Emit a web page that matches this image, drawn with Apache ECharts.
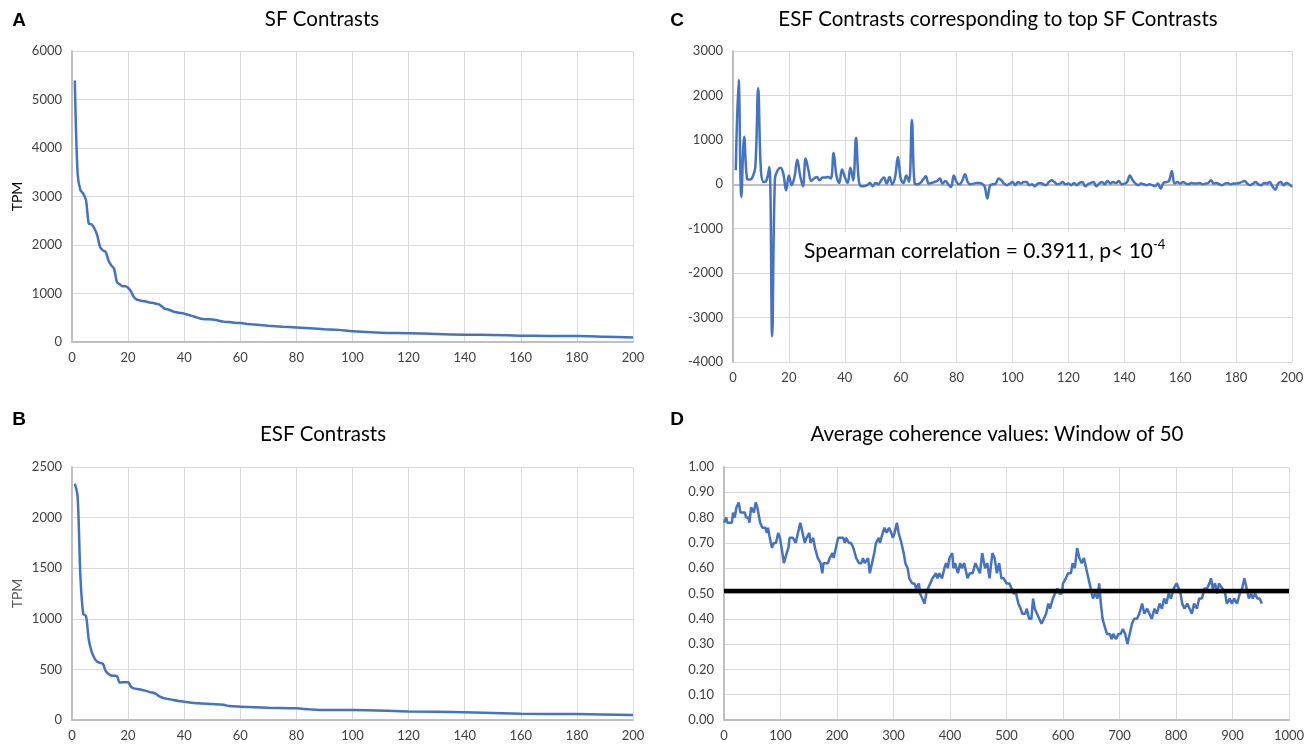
<!DOCTYPE html>
<html>
<head>
<meta charset="utf-8">
<style>
  html, body { margin: 0; padding: 0; background: #fff; }
  #main { width: 1313px; height: 747px; }
</style>
<script src="https://cdn.jsdelivr.net/npm/echarts@6.0.0/dist/echarts.min.js"></script>
</head>
<body>
<div id="main"></div>
<script>
// A: SF contrasts (rank -> TPM)
var sfX = [1, 2, 3, 4, 5, 6, 7, 8, 9, 10, 11, 12, 13, 14, 15, 16, 17, 18, 19, 20,
  21, 22, 23, 24, 25, 26, 27, 28, 29, 30, 31, 32, 33, 34, 35, 36, 38, 40, 42, 44,
  46, 48, 50, 52, 54, 56, 60, 64, 70, 75, 80, 90, 95, 100, 110, 120, 130, 140, 150, 160,
  170, 180, 190, 200];
var sfY = [5390, 3470, 3130, 3060, 2920, 2440, 2425, 2340, 2200, 1960, 1890, 1860, 1680, 1580, 1510, 1240, 1190, 1150, 1150, 1120,
  1050, 930, 880, 860, 845, 840, 825, 810, 805, 790, 775, 735, 690, 675, 655, 630, 605, 585, 550, 515,
  480, 470, 465, 445, 420, 410, 390, 365, 335, 315, 300, 265, 250, 220, 190, 180, 165, 150, 145, 130,
  125, 125, 110, 95];

// B: ESF contrasts
var esfX = [1, 2, 3, 4, 5, 6, 7, 8, 9, 10, 11, 12, 13, 14, 15, 16, 17, 18, 19, 20,
  21, 22, 24, 26, 28, 29, 30, 31, 33, 35, 38, 40, 45, 50, 54, 56, 60, 70, 80, 85,
  90, 100, 120, 140, 160, 180, 200];
var esfY = [2335, 2210, 1415, 1050, 1025, 790, 675, 610, 575, 565, 555, 485, 455, 440, 438, 435, 370, 372, 372, 372,
  330, 313, 303, 290, 273, 270, 257, 237, 214, 204, 188, 181, 165, 158, 151, 138, 132, 122, 115, 105,
  99, 99, 85, 76, 62, 59, 50];

// C: ESF contrasts for top SF contrasts, ranks 1..200
var topEsf = [
  315, 2345, -285, 1070, 130, 105, 165, 390, 2160, 300,
  50, 90, 390, -3420, 130, 315, 375, 240, -135, 200,
  -20, 165, 555, 200, -45, 580, 315, 75, 130, 165,
  90, 150, 150, 165, 130, 705, 200, 30, 330, 165,
  30, 375, 90, 1045, 90, -45, -40, -20, 30, -45,
  30, 0, 90, 150, 15, 165, 0, 165, 615, 130,
  30, 200, 50, 1445, 15, 0, 30, 105, 180, 15,
  30, 50, 75, 130, 15, 75, 0, -60, 200, 50,
  0, 75, 225, 50, 0, 15, 30, 30, 15, -45,
  -320, -20, 0, 15, 130, 90, 15, -20, 15, 50,
  -20, 50, 15, 50, 50, -20, 0, -45, 15, 30,
  0, -20, 50, 90, 50, 0, 15, 50, 0, 15,
  -20, 30, -20, 30, 50, -45, 0, 30, 50, -45,
  15, 50, 0, 75, 15, 50, 30, 75, 0, 15,
  50, 200, 90, 15, -20, 15, 0, -20, 0, -20,
  -45, 15, -100, 30, 50, 75, 300, 15, 50, 15,
  50, 15, 0, 30, 15, 15, 30, 0, 15, 30,
  90, 15, 30, 0, -20, 15, 30, 0, 15, 15,
  30, 50, 75, 15, -20, 15, 50, 0, -20, 30,
  15, 50, -45, -120, 15, 50, -20, 30, 0, -60
];

// D: average coherence, window of 50
var cohX = [0, 4, 6, 14, 16, 19, 22, 26, 29, 37, 39, 43, 45, 48, 51, 53, 56, 59, 64, 68,
  73, 76, 78, 81, 85, 88, 92, 96, 99, 102, 106, 111, 114, 116, 122, 127, 129, 133, 135, 139,
  143, 146, 151, 153, 158, 161, 166, 171, 174, 176, 184, 187, 192, 194, 198, 202, 211, 214, 216, 221,
  225, 229, 234, 239, 243, 246, 249, 252, 255, 258, 262, 266, 269, 274, 276, 281, 284, 288, 292, 296,
  299, 302, 306, 309, 314, 318, 321, 325, 328, 333, 337, 340, 345, 347, 351, 355, 358, 361, 365, 369,
  372, 375, 378, 381, 386, 390, 393, 396, 399, 404, 406, 409, 414, 418, 421, 425, 431, 435, 440, 445,
  449, 453, 457, 462, 466, 470, 475, 479, 483, 487, 491, 495, 500, 505, 509, 512, 517, 521, 525, 528,
  533, 536, 540, 544, 547, 550, 554, 558, 562, 566, 570, 574, 577, 582, 586, 590, 593, 598, 600, 605,
  609, 614, 617, 621, 625, 629, 633, 637, 641, 645, 649, 653, 657, 661, 664, 667, 670, 675, 678, 683,
  686, 689, 694, 698, 702, 706, 710, 714, 718, 722, 726, 731, 735, 740, 744, 749, 753, 757, 762, 766,
  771, 775, 779, 783, 787, 791, 796, 801, 805, 808, 811, 815, 820, 824, 828, 832, 837, 841, 846, 850,
  855, 859, 862, 865, 869, 873, 876, 879, 882, 887, 890, 895, 899, 903, 908, 913, 917, 921, 924, 929,
  933, 936, 940, 944, 948, 952];
var cohY = [0.78, 0.80, 0.78, 0.78, 0.82, 0.80, 0.84, 0.86, 0.82, 0.82, 0.80, 0.80, 0.78, 0.84, 0.84, 0.82, 0.86, 0.84, 0.78, 0.76,
  0.76, 0.74, 0.76, 0.72, 0.68, 0.70, 0.70, 0.74, 0.72, 0.68, 0.62, 0.66, 0.68, 0.72, 0.72, 0.70, 0.72, 0.76, 0.78, 0.74,
  0.70, 0.72, 0.74, 0.70, 0.72, 0.68, 0.64, 0.62, 0.58, 0.62, 0.62, 0.64, 0.66, 0.64, 0.68, 0.72, 0.72, 0.70, 0.72, 0.70,
  0.70, 0.68, 0.64, 0.62, 0.62, 0.64, 0.62, 0.62, 0.64, 0.58, 0.62, 0.66, 0.70, 0.72, 0.70, 0.74, 0.76, 0.74, 0.76, 0.74,
  0.72, 0.74, 0.78, 0.74, 0.70, 0.66, 0.62, 0.60, 0.56, 0.54, 0.54, 0.52, 0.54, 0.50, 0.48, 0.46, 0.50, 0.52, 0.54, 0.56,
  0.56, 0.58, 0.56, 0.58, 0.56, 0.60, 0.62, 0.60, 0.64, 0.66, 0.60, 0.62, 0.58, 0.62, 0.60, 0.62, 0.56, 0.58, 0.58, 0.62,
  0.60, 0.58, 0.66, 0.60, 0.62, 0.56, 0.66, 0.64, 0.58, 0.62, 0.56, 0.56, 0.54, 0.54, 0.52, 0.50, 0.50, 0.46, 0.44, 0.42,
  0.42, 0.44, 0.40, 0.40, 0.48, 0.44, 0.42, 0.40, 0.38, 0.40, 0.42, 0.46, 0.44, 0.48, 0.50, 0.52, 0.50, 0.50, 0.54, 0.56,
  0.58, 0.58, 0.62, 0.60, 0.68, 0.64, 0.62, 0.64, 0.60, 0.56, 0.52, 0.48, 0.50, 0.48, 0.54, 0.46, 0.40, 0.36, 0.34, 0.34,
  0.32, 0.34, 0.32, 0.34, 0.34, 0.36, 0.34, 0.30, 0.34, 0.38, 0.40, 0.40, 0.42, 0.46, 0.42, 0.44, 0.42, 0.40, 0.44, 0.42,
  0.46, 0.44, 0.48, 0.46, 0.50, 0.48, 0.52, 0.54, 0.52, 0.50, 0.46, 0.44, 0.46, 0.44, 0.42, 0.46, 0.44, 0.48, 0.48, 0.52,
  0.52, 0.54, 0.56, 0.52, 0.54, 0.50, 0.54, 0.54, 0.52, 0.50, 0.46, 0.48, 0.46, 0.48, 0.46, 0.50, 0.52, 0.56, 0.56, 0.48,
  0.50, 0.48, 0.50, 0.48, 0.48, 0.46];
// threshold line in D
var cutX = [0, 1000];
var cutY = [0.51, 0.51];

function pairs(xs, ys) {
  return xs.map(function (x, i) { return [x, ys[i]]; });
}

var font = 'Lato, "Open Sans", sans-serif';
var blue = '#4472c4';
// plain numbers, no thousands separator
var plain = function (v) { return String(v); };

function xAx(g, max, interval) {
  return {
    type: 'value', gridIndex: g, min: 0, max: max, interval: interval,
    axisLine: { lineStyle: { color: '#bfbfbf', width: 2 } },
    axisTick: { show: false },
    axisLabel: { color: '#404040', fontFamily: font, fontSize: 13, margin: 9, formatter: plain },
    splitLine: { lineStyle: { color: '#d9d9d9' } }
  };
}
function yAx(g, min, max, interval, name, nameColor, fmt) {
  return {
    type: 'value', gridIndex: g, min: min, max: max, interval: interval,
    name: name, nameLocation: 'middle', nameGap: 48,
    nameTextStyle: { color: nameColor, fontFamily: font, fontSize: 14 },
    axisLine: { show: true, lineStyle: { color: '#bfbfbf', width: 2 } },
    axisTick: { show: false },
    axisLabel: { color: '#404040', fontFamily: font, fontSize: 13, margin: 10, formatter: fmt || plain },
    splitLine: { lineStyle: { color: '#d9d9d9' } }
  };
}
function txt(x, y, text, size, weight, align) {
  return {
    type: 'text', x: x, y: y, z: 100, silent: true,
    style: {
      text: text, fill: '#000', fontFamily: weight === 'bold' ? '"Liberation Sans", Arial, sans-serif' : font,
      fontSize: size, fontWeight: weight || 'normal',
      align: align || 'center', verticalAlign: 'middle'
    }
  };
}

var myChart = echarts.init(document.getElementById('main'));

var option = {
  animation: false,
  backgroundColor: '#fff',
  grid: [
    { left: 72, top: 51, width: 561, height: 291 },
    { left: 72, top: 467, width: 561, height: 253 },
    { left: 733, top: 51, width: 559, height: 311 },
    { left: 724, top: 467, width: 565, height: 253 }
  ],
  xAxis: [xAx(0, 200, 20), xAx(1, 200, 20), xAx(2, 200, 20), xAx(3, 1000, 100)],
  yAxis: [
    yAx(0, 0, 6000, 1000, 'TPM', '#000'),
    yAx(1, 0, 2500, 500, 'TPM', '#595959'),
    yAx(2, -4000, 3000, 1000, '', '#000'),
    yAx(3, 0, 1, 0.1, '', '#000', function (v) { return v.toFixed(2); })
  ],
  series: [
    {
      type: 'line', xAxisIndex: 0, yAxisIndex: 0, data: pairs(sfX, sfY),
      showSymbol: false, smooth: 0.3, lineStyle: { color: blue, width: 2.5 }
    },
    {
      type: 'line', xAxisIndex: 1, yAxisIndex: 1, data: pairs(esfX, esfY),
      showSymbol: false, smooth: 0.3, lineStyle: { color: blue, width: 2.5 }
    },
    {
      type: 'line', xAxisIndex: 2, yAxisIndex: 2,
      data: topEsf.map(function (v, i) { return [i + 1, v]; }),
      showSymbol: false, smooth: 0.4, lineStyle: { color: blue, width: 2.5 }
    },
    {
      type: 'line', xAxisIndex: 3, yAxisIndex: 3, data: pairs(cohX, cohY),
      showSymbol: false, lineStyle: { color: blue, width: 2.5 }
    },
    {
      type: 'line', xAxisIndex: 3, yAxisIndex: 3, data: pairs(cutX, cutY),
      showSymbol: false, lineStyle: { color: '#000', width: 4.5 }
    }
  ],
  graphic: [
    txt(19, 21, 'A', 19, 'bold'),
    txt(19, 420, 'B', 19, 'bold'),
    txt(677, 21, 'C', 19, 'bold'),
    txt(677, 420, 'D', 19, 'bold'),
    txt(322, 19, 'SF Contrasts', 20.5),
    txt(323, 434, 'ESF Contrasts', 20.5),
    txt(998, 19, 'ESF Contrasts corresponding to top SF Contrasts', 20.5),
    txt(997, 434, 'Average coherence values: Window of 50', 20.5),
    {
      type: 'text', x: 798, y: 251, z: 100, silent: true,
      style: {
        text: '{a|Spearman correlation = 0.3911, p< 10}{b|-4}',
        align: 'left', verticalAlign: 'middle',
        backgroundColor: '#fff', padding: [6, 8, 6, 6],
        rich: {
          a: { fontFamily: font, fontSize: 21, color: '#000', lineHeight: 26 },
          b: { fontFamily: font, fontSize: 13, color: '#000', lineHeight: 26, verticalAlign: 'top' }
        }
      }
    }
  ]
};

myChart.setOption(option);
</script>
</body>
</html>
